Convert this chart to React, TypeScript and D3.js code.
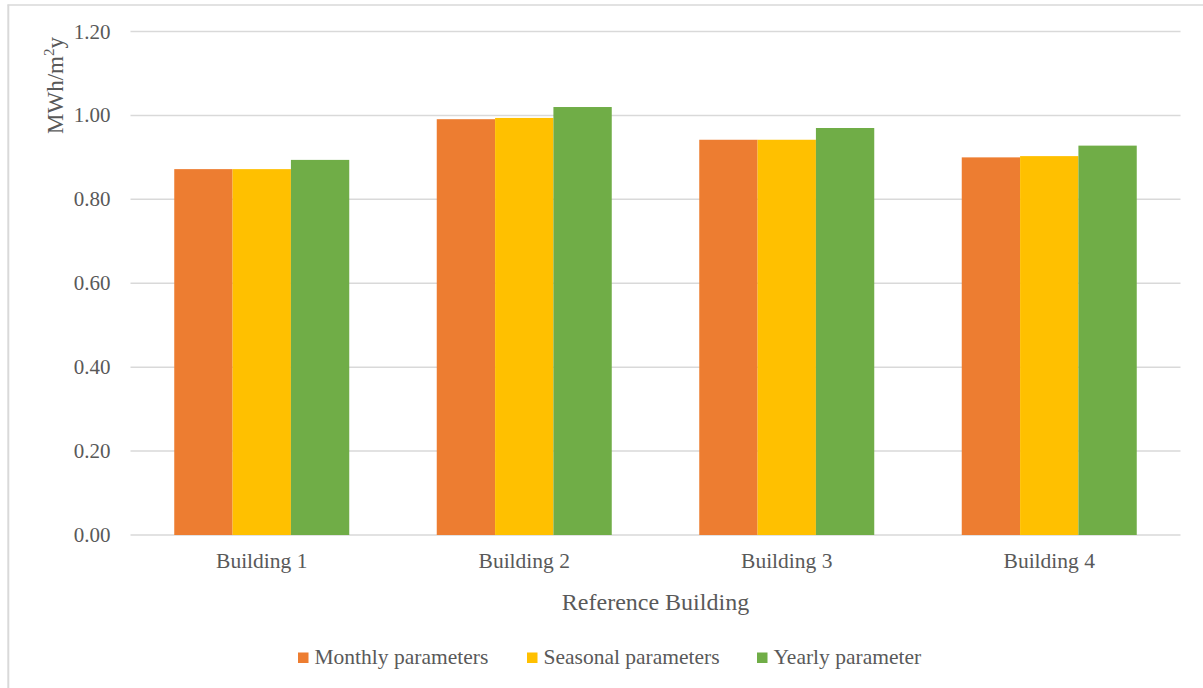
import React from "react";
import * as d3 from "d3";

const categories = ["Building 1", "Building 2", "Building 3", "Building 4"];
const seriesNames = ["Monthly parameters", "Seasonal parameters", "Yearly parameter"];
const monthly = [0.872, 0.991, 0.942, 0.900];
const seasonal = [0.872, 0.994, 0.942, 0.903];
const yearly = [0.894, 1.020, 0.970, 0.928];
const yTicks = [0, 0.2, 0.4, 0.6, 0.8, 1.0, 1.2];
const colors = ["#ED7D31", "#FFC000", "#70AD47"];

const W = 1203;
const H = 688;
const FONT = "'Liberation Serif', 'Times New Roman', serif";
const TEXT = "#595959";
const GRID = "#d9d9d9";

export default function App() {
  const values = [monthly, seasonal, yearly];
  const y = d3.scaleLinear().domain([0, 1.2]).range([535, 31.5]);
  const x0 = d3.scaleBand<string>().domain(categories).range([130.5, 1180.5]).padding(0);
  const bw = x0.bandwidth();
  const x1 = d3
    .scaleBand<string>()
    .domain(seriesNames)
    .range([bw / 6, (bw * 5) / 6])
    .padding(0);
  const legendX = [298, 527, 757];

  return (
    <svg
      width={W}
      height={H}
      style={{ position: "absolute", left: 0, top: 0, background: "#fff" }}
      fontFamily={FONT}
    >
      <rect x={0} y={0} width={W} height={H} fill="#fff" />
      {/* chart border */}
      <line x1={7.5} x2={W} y1={5} y2={5} stroke={GRID} strokeWidth={1.6} />
      <line x1={8.3} x2={8.3} y1={4.5} y2={H} stroke={GRID} strokeWidth={2} />

      {/* gridlines */}
      {yTicks.map((t) => (
        <line
          key={"g" + t}
          x1={130.5}
          x2={1180.5}
          y1={y(t)}
          y2={y(t)}
          stroke={GRID}
          strokeWidth={1.5}
        />
      ))}

      {/* bars */}
      {categories.map((c, ci) =>
        seriesNames.map((s, si) => (
          <rect
            key={c + s}
            x={(x0(c) as number) + (x1(s) as number)}
            y={y(values[si][ci])}
            width={x1.bandwidth()}
            height={y(0) - y(values[si][ci])}
            fill={colors[si]}
          />
        ))
      )}

      {/* y tick labels */}
      {yTicks.map((t) => (
        <text
          key={"t" + t}
          x={110.5}
          y={y(t)}
          dy={7}
          textAnchor="end"
          fontSize={21}
          fill={TEXT}
        >
          {d3.format(".2f")(t)}
        </text>
      ))}

      {/* category labels */}
      {categories.map((c) => (
        <text
          key={"c" + c}
          x={(x0(c) as number) + bw / 2}
          y={568}
          textAnchor="middle"
          fontSize={21.5}
          fill={TEXT}
        >
          {c}
        </text>
      ))}

      {/* x axis title */}
      <text x={655.5} y={609.5} textAnchor="middle" fontSize={24} fill={TEXT}>
        Reference Building
      </text>

      {/* y axis title */}
      <text
        transform="translate(62.5,85.5) rotate(-90)"
        textAnchor="middle"
        fontSize={23}
        fill={TEXT}
      >
        MWh/m
        <tspan fontSize={15} dy={-9}>
          2
        </tspan>
        <tspan dy={9}>y</tspan>
      </text>

      {/* legend */}
      {seriesNames.map((s, i) => (
        <g key={"l" + s} transform={`translate(${legendX[i]},0)`}>
          <rect x={0} y={652.5} width={10.5} height={10.5} fill={colors[i]} />
          <text x={16.5} y={664} fontSize={21.5} fill={TEXT}>
            {s}
          </text>
        </g>
      ))}
    </svg>
  );
}
